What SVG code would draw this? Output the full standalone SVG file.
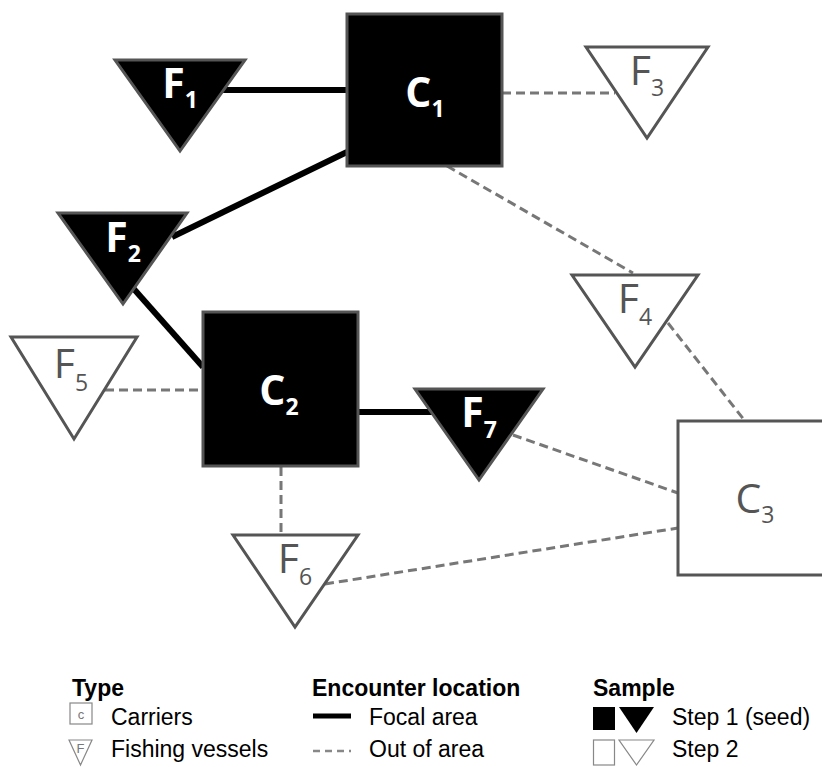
<svg xmlns="http://www.w3.org/2000/svg" width="822" height="767" viewBox="0 0 822 767">
  <style>
    .seed { fill: #000; stroke: #555; stroke-width: 3; }
    .step2 { fill: #fff; stroke: #555; stroke-width: 3; }
    .focal { stroke: #000; stroke-width: 6; fill: none; }
    .out { stroke: #777; stroke-width: 3; stroke-dasharray: 9 5; fill: none; }
    .lbl { font-family: "Open Sans", "DejaVu Sans", sans-serif; font-size: 41px; text-anchor: middle; }
    .lbl tspan { font-size: 23px; }
    .lbl-seed { fill: #fff; font-weight: bold; }
    .lbl-step2 { fill: #555; }
    .leg { font-family: "Liberation Sans", Arial, sans-serif; font-size: 23px; fill: #000; }
    .leg-h { font-weight: bold; }
    .icon { fill: #fff; stroke: #888; stroke-width: 1.2; }
    .icon-txt { font-family: "Liberation Sans", Arial, sans-serif; font-size: 13px; fill: #777; text-anchor: middle; }
  </style>

  <rect width="822" height="767" fill="#fff"/>

  <!-- connectors -->
  <g id="connectors">
    <line class="focal" x1="223" y1="90" x2="347" y2="90"/>
    <line class="focal" x1="172" y1="237" x2="347" y2="152"/>
    <line class="focal" x1="133" y1="288" x2="203" y2="367"/>
    <line class="focal" x1="358" y1="412" x2="433" y2="412"/>
    <line class="out" x1="502" y1="93" x2="615" y2="93"/>
    <line class="out" x1="447" y1="166" x2="633" y2="273"/>
    <line class="out" x1="668" y1="323" x2="745" y2="421"/>
    <line class="out" x1="105" y1="390" x2="203" y2="390"/>
    <line class="out" x1="281" y1="467" x2="281" y2="535"/>
    <line class="out" x1="513" y1="435" x2="678" y2="493"/>
    <line class="out" x1="325" y1="584" x2="678" y2="528"/>
  </g>

  <!-- carriers -->
  <g id="C1">
    <rect class="seed" x="347" y="14" width="155" height="152"/>
    <text class="lbl lbl-seed" x="425" y="107">C<tspan dy="10">1</tspan></text>
  </g>
  <g id="C2">
    <rect class="seed" x="203" y="312" width="155" height="154"/>
    <text class="lbl lbl-seed" x="279" y="405">C<tspan dy="10">2</tspan></text>
  </g>
  <g id="C3">
    <rect class="step2" x="678" y="421" width="160" height="154"/>
    <text class="lbl lbl-step2" x="755" y="513">C<tspan dy="10">3</tspan></text>
  </g>

  <!-- fishing vessels -->
  <g id="F1">
    <polygon class="seed" points="115,60 245,60 180,151"/>
    <text class="lbl lbl-seed" x="180" y="98">F<tspan dy="10">1</tspan></text>
  </g>
  <g id="F2">
    <polygon class="seed" points="58,213 187,213 123,304"/>
    <text class="lbl lbl-seed" x="123" y="252">F<tspan dy="10">2</tspan></text>
  </g>
  <g id="F3">
    <polygon class="step2" points="586,47 708,47 647,138"/>
    <text class="lbl lbl-step2" x="647" y="85">F<tspan dy="11">3</tspan></text>
  </g>
  <g id="F4">
    <polygon class="step2" points="572,275 698,275 635,367"/>
    <text class="lbl lbl-step2" x="635" y="313">F<tspan dy="12">4</tspan></text>
  </g>
  <g id="F5">
    <polygon class="step2" points="11,337 137,337 74,439"/>
    <text class="lbl lbl-step2" x="71" y="378">F<tspan dy="13">5</tspan></text>
  </g>
  <g id="F6">
    <polygon class="step2" points="233,535 358,535 295,627"/>
    <text class="lbl lbl-step2" x="295" y="573">F<tspan dy="12">6</tspan></text>
  </g>
  <g id="F7">
    <polygon class="seed" points="415,389 543,389 479,480"/>
    <text class="lbl lbl-seed" x="479" y="427">F<tspan dy="11">7</tspan></text>
  </g>

  <!-- legend -->
  <g id="legend-type">
    <text class="leg leg-h" x="72" y="696">Type</text>
    <rect class="icon" x="70" y="703" width="22" height="21"/>
    <text class="icon-txt" x="81" y="719">c</text>
    <text class="leg" x="111" y="725">Carriers</text>
    <polygon class="icon" points="69,740 92,740 80.5,765"/>
    <text class="icon-txt" x="80.5" y="753">F</text>
    <text class="leg" x="111" y="757">Fishing vessels</text>
  </g>
  <g id="legend-location">
    <text class="leg leg-h" x="312" y="696">Encounter location</text>
    <line x1="313" y1="716" x2="351" y2="716" stroke="#000" stroke-width="5"/>
    <text class="leg" x="369" y="725">Focal area</text>
    <line x1="313" y1="751" x2="351" y2="751" stroke="#888" stroke-width="2.5" stroke-dasharray="7 5"/>
    <text class="leg" x="369" y="757">Out of area</text>
  </g>
  <g id="legend-sample">
    <text class="leg leg-h" x="593" y="696">Sample</text>
    <rect x="593" y="707" width="22" height="23" fill="#000"/>
    <polygon points="619,707 654,707 636.5,733" fill="#000"/>
    <text class="leg" x="672" y="725">Step 1 (seed)</text>
    <rect class="icon" x="593.5" y="740" width="21" height="25"/>
    <polygon class="icon" points="619,740 654,740 636.5,765"/>
    <text class="leg" x="672" y="757">Step 2</text>
  </g>
</svg>
